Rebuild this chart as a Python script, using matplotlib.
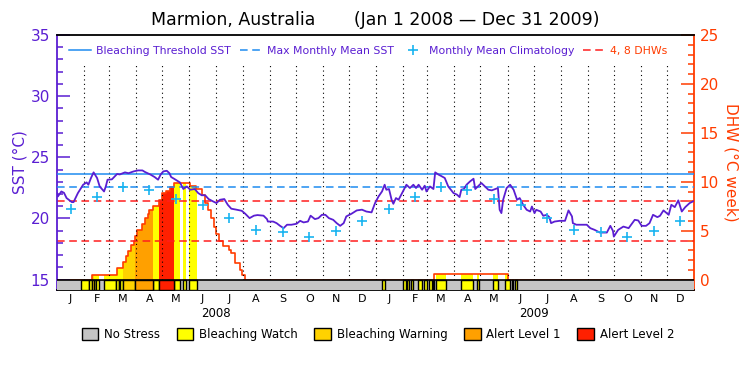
import numpy as np
import matplotlib
matplotlib.use('Agg')
import matplotlib.pyplot as plt
from matplotlib.lines import Line2D
from matplotlib.patches import Patch

# SST (days since 2008-01-01)
sst_day = [0, 1, 5, 8, 11, 17, 19, 24, 30, 34, 36, 39,
           42, 46, 49, 54, 56, 58, 63, 69, 72, 78, 82, 88,
           93, 98, 101, 107, 112, 116, 119, 122, 126, 129, 131, 135,
           141, 145, 149, 153, 158, 162, 166, 170, 174, 179, 183, 187,
           192, 196, 200, 206, 212, 216, 221, 226, 230, 237, 241, 242,
           248, 252, 256, 260, 264, 269, 275, 279, 283, 288, 291, 296,
           300, 304, 308, 312, 317, 321, 325, 329, 332, 338, 344, 350,
           355, 361, 365, 369, 373, 376, 378, 381, 384, 386, 389, 392,
           396, 401, 405, 409, 412, 415, 419, 422, 424, 428, 432, 434,
           438, 441, 445, 449, 455, 459, 462, 464, 467, 470, 474, 478,
           480, 483, 487, 491, 495, 499, 503, 506, 508, 510, 512, 516,
           520, 524, 528, 531, 535, 539, 543, 545, 548, 550, 555, 558,
           562, 565, 567, 571, 577, 583, 587, 591, 592, 596, 602, 608,
           612, 617, 623, 631, 635, 638, 639, 644, 650, 656, 658, 663,
           667, 671, 676, 680, 684, 689, 692, 696, 702, 705, 709, 713,
           717, 721, 726, 730]
sst_val = [22.08, 21.80, 22.21, 22.10, 21.67, 21.34, 21.34, 22.08, 22.76, 22.95, 22.76, 23.31,
           23.77, 23.31, 22.62, 22.21, 22.62, 23.17, 23.20, 23.64, 23.60, 23.77, 23.70, 23.85,
           23.93, 23.93, 23.80, 23.60, 23.39, 23.17, 23.60, 23.85, 23.90, 23.70, 23.39, 23.22,
           22.95, 22.41, 22.62, 22.35, 22.41, 22.08, 21.90, 21.90, 21.59, 21.40, 21.26, 21.53,
           21.59, 21.12, 20.80, 20.72, 20.63, 20.39, 20.03, 20.23, 20.28, 20.23, 19.95, 19.75,
           19.75, 19.62, 19.40, 19.21, 19.49, 19.49, 19.57, 19.81, 19.68, 19.75, 20.23, 19.95,
           20.03, 20.30, 20.30, 20.03, 19.89, 19.62, 19.40, 19.62, 20.17, 20.39, 20.66, 20.72,
           20.57, 20.50, 21.26, 21.80, 22.21, 22.76, 22.35, 22.41, 21.53, 21.20, 21.67, 21.53,
           22.08, 22.76, 22.49, 22.76, 22.49, 22.76, 22.35, 22.68, 22.21, 22.62, 22.41, 23.77,
           23.58, 23.47, 23.31, 22.62, 22.08, 21.95, 21.75, 22.35, 22.41, 22.76, 23.03, 23.25,
           22.41, 22.62, 22.90, 22.62, 22.35, 22.30, 22.41, 22.49, 20.71, 20.44, 21.53, 22.49,
           22.76, 22.35, 21.53, 21.67, 21.12, 20.71, 20.57, 20.98, 20.44, 20.71, 20.57, 20.22,
           20.30, 20.11, 19.62, 19.75, 19.81, 19.81, 20.66, 20.17, 19.62, 19.49, 19.49, 19.49,
           19.21, 19.07, 18.85, 18.85, 19.40, 18.99, 18.52, 19.07, 19.34, 19.21, 19.40, 19.89,
           19.84, 19.40, 19.40, 19.62, 20.30, 20.11, 20.22, 20.66, 20.30, 21.12, 20.93, 21.48,
           20.57, 20.93, 21.26, 21.40]

# monthly mean climatology (Jan..Dec), repeated each year
clim_val = [20.77, 21.75, 22.54, 22.35, 21.61, 21.07, 20.03, 19.07, 18.88, 18.47, 18.99, 19.81]
mmm = 22.6
threshold = 23.6
dhw_marks = [4, 8]

# degree heating weeks (step values)
dhw_day = [0, 40, 69, 76, 79, 82, 85, 88, 90, 92,
           97, 101, 104, 106, 110, 117, 120, 125, 130, 134,
           153, 160, 166, 170, 173, 177, 180, 183, 186, 191,
           197, 200, 204, 210, 212, 216, 433, 517, 731]
dhw_val = [0, 0.5, 1.16, 1.8, 2.4, 2.95, 3.5, 4.0, 4.45, 5.1,
           5.65, 6.25, 6.7, 7.1, 7.5, 8.1, 8.9, 9.1, 9.45, 9.9,
           9.6, 9.3, 8.6, 7.8, 7.1, 6.25, 5.4, 4.7, 4.0, 3.4,
           3.05, 2.7, 1.7, 1.0, 0.5, 0, 0.55, 0, 0]

# stress level periods: 1 watch, 2 warning, 3 alert 1, 4 alert 2
status_start = [27, 37, 40.5, 42.5, 45, 54, 67.5, 71, 72.5, 76, 89.5, 110.5, 117, 134.6, 145, 151.8,
                373, 397.5, 402, 406, 414.5, 421.5, 427, 431, 434.5, 463.5, 482.5, 500, 514, 522, 525.5]
status_end = [37, 40.5, 42.5, 45, 48, 67.5, 71, 72.5, 76, 89.5, 110.5, 117, 134.6, 141.2, 147.7, 160.3,
              376.5, 400, 404.5, 408, 419, 424.5, 430, 433, 446.5, 477.5, 484.5, 506.5, 520, 523.5, 527.5]
status_level = [1, 1, 2, 1, 1, 1, 1, 1, 1, 2, 3, 1, 4, 1, 1, 1,
                1, 1, 1, 1, 1, 1, 1, 1, 1, 1, 1, 1, 1, 1, 1]

month_letters = list('JFMAMJJASOND')
years = ['2008', '2009']
level_names = ['No Stress', 'Bleaching Watch', 'Bleaching Warning', 'Alert Level 1', 'Alert Level 2']
level_colors = ['#c4c4c4', '#ffff00', '#ffd200', '#ffa000', '#ff2000']

purple = '#5a1ed2'
blue = '#1e8cf0'
cyan = '#19b4f0'
red = '#ff1e1e'
orange_red = '#ff3c00'

t0 = np.datetime64('2008-01-01')
months = np.arange('2008-01', '2010-02', dtype='datetime64[M]')
mdays = (months.astype('datetime64[D]') - t0).astype(int)
mid = (mdays[:-1] + mdays[1:]) / 2

sst_lo, sst_hi = 14.156, 35
dhw_lo, dhw_hi = 1.25 * (sst_lo - 15), 25

fig = plt.figure(figsize=(7.5, 3.75), dpi=100)
ax = fig.add_axes([0.076, 0.2267, 0.8493, 0.68])
ax2 = ax.twinx()
ax.set_zorder(ax2.get_zorder() + 1)
ax.patch.set_visible(False)

# DHW filled by stress level
grid = np.arange(0, 731.01, 0.25)
dhw_grid = np.array(dhw_val)[np.searchsorted(dhw_day, grid, side='right') - 1]
lvl_grid = np.zeros_like(grid, dtype=int)
for s, e, l in zip(status_start, status_end, status_level):
    lvl_grid[(grid >= s) & (grid < e)] = l
for l in range(1, 5):
    ax2.fill_between(grid, 0, dhw_grid, where=(lvl_grid == l), step='post',
                     color=level_colors[l], lw=0, zorder=1)
ax2.step(dhw_day, dhw_val, where='post', color=orange_red, lw=1.2, zorder=2)
for v in dhw_marks:
    ax2.axhline(v, color=red, lw=1.1, dashes=(5, 3), zorder=3)
ax2.set_ylim(dhw_lo, dhw_hi)

# SST side
ax.axhline(threshold, color=blue, lw=1.1, zorder=3)
ax.axhline(mmm, color=blue, lw=1.1, dashes=(5, 3), zorder=3)
ax.vlines(mdays[1:-1], 15, 32.6, colors='k', linestyles=(0, (1, 3)), lw=0.8, zorder=2)
ax.plot(sst_day, sst_val, color=purple, lw=1.3, zorder=5)
ax.plot(mid, np.tile(clim_val, 2), ls='none', marker='+', ms=7, mew=1.2, color=cyan, zorder=6)

# status strip
ax.axhspan(sst_lo, 15, color=level_colors[0], lw=0, zorder=7)
for l in range(1, 5):
    segs = [(s, e - s) for s, e, lv in zip(status_start, status_end, status_level) if lv == l]
    if segs:
        ax.broken_barh(segs, (sst_lo, 15 - sst_lo), facecolors=level_colors[l],
                       edgecolors='k', lw=1, zorder=8)
ax.axhline(15, color='k', lw=1.2, zorder=9)

ax.set_xlim(0, 731)
ax.set_ylim(sst_lo, sst_hi)
ax.set_yticks(range(15, 36, 5))
ax.set_yticks(range(15, 36), minor=True)
ax.tick_params(axis='y', which='both', direction='in', colors=purple, width=1.1, labelsize=11, pad=5)
ax.tick_params(axis='y', which='major', length=9.5)
ax.tick_params(axis='y', which='minor', length=4.5)
ax.set_xticks(mid)
ax.set_xticklabels(month_letters * 2, fontsize=8)
ax.tick_params(axis='x', length=0, pad=3)
ax.set_ylabel('SST (°C)', color=purple, fontsize=11, labelpad=2)

ax2.set_yticks(range(0, 26, 5))
ax2.set_yticks(range(0, 26), minor=True)
ax2.tick_params(axis='y', which='both', direction='in', colors=orange_red, width=1.1, labelsize=11, pad=4)
ax2.tick_params(axis='y', which='major', length=9.5)
ax2.tick_params(axis='y', which='minor', length=4.5)
ax2.set_ylabel('DHW (°C week)', color=orange_red, fontsize=11, rotation=-90, labelpad=14)

ax.spines['left'].set_color(purple)
ax.spines['right'].set_visible(False)
for side in ('left', 'top', 'bottom'):
    ax2.spines[side].set_visible(False)
ax2.spines['right'].set_color(orange_red)
for sp in ('left', 'top', 'bottom'):
    ax.spines[sp].set_linewidth(1.3)
ax2.spines['right'].set_linewidth(1.3)

for i, y in enumerate(years):
    ax.text(mdays[6 + 12 * i], -0.094, y, transform=ax.get_xaxis_transform(),
            ha='center', va='center', fontsize=8.5)

handles = [Line2D([], [], color=blue, lw=1.1),
           Line2D([], [], color=blue, lw=1.1, dashes=(5, 3)),
           Line2D([], [], ls='none', marker='+', ms=7, mew=1.2, color=cyan),
           Line2D([], [], color=red, lw=1.1, dashes=(5, 3))]
labels = ['Bleaching Threshold SST', 'Max Monthly Mean SST', 'Monthly Mean Climatology', '4, 8 DHWs']
ax.legend(handles, labels, ncol=4, loc='center left', bbox_to_anchor=(0.019, 0.937),
          frameon=False, fontsize=7.8, handlelength=2.0, handletextpad=0.5, columnspacing=0.8,
          borderpad=0, borderaxespad=0, labelcolor=[purple, purple, purple, orange_red])

fig.text(0.5, 0.947, 'Marmion, Australia       (Jan 1 2008 \u2014 Dec 31 2009)',
         ha='center', va='center', fontsize=12.5)

patches = [Patch(facecolor=c, edgecolor='k', lw=1) for c in level_colors]
fig.legend(patches, level_names, ncol=5, loc='center', bbox_to_anchor=(0.504, 0.107),
           frameon=False, fontsize=8.5, handlelength=1.4, handleheight=1.2,
           handletextpad=0.5, columnspacing=1.4)

fig.savefig('out.png', dpi=100)
